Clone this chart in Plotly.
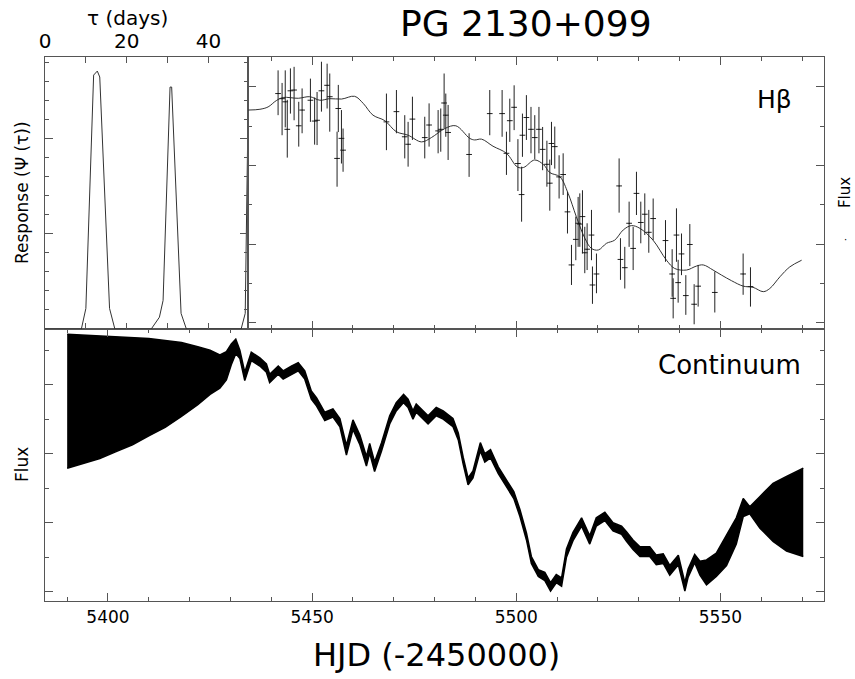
import plotly.graph_objects as go

# ---------------- data ----------------
# Transfer function (response) vs lag
tau_days = [0, 8.9, 10.0, 11.9, 12.8, 13.4, 15.8, 17.1, 26.0, 28.0, 28.9, 30.6, 31.0, 31.3, 33.3, 34.6, 48.0, 49.0, 49.6]
psi_resp = [0, 0, 0.0108, 0.1334, 0.1355, 0.1324, 0.0108, 0, 0, 0.0062, 0.015, 0.1271, 0.1271, 0.1113, 0.0082, 0, 0, 0.0082, 0.1008]

# H-beta light curve observations
hb_hjd = [5441.65, 5442.63, 5443.40, 5443.90, 5444.67, 5445.57, 5446.71, 5447.53, 5449.57, 5450.60,
          5451.20, 5452.27, 5453.66, 5454.31, 5456.40, 5456.10, 5457.17, 5457.57, 5468.19, 5470.64,
          5472.68, 5473.50, 5474.56, 5477.58, 5478.64, 5480.85, 5481.50, 5482.32, 5482.73, 5483.30,
          5488.44, 5493.50, 5496.53, 5497.59, 5498.41, 5499.47, 5500.40, 5501.30, 5501.51, 5502.48,
          5503.60, 5504.53, 5505.55, 5506.45, 5507.50, 5508.21, 5508.62, 5509.43, 5510.49, 5511.48,
          5512.54, 5513.52, 5514.58, 5515.15, 5515.56, 5516.21, 5516.78, 5517.35, 5518.42, 5518.66,
          5519.64, 5525.19, 5525.52, 5526.58, 5527.64, 5528.63, 5529.44, 5530.50, 5531.48, 5532.46,
          5533.53, 5536.55, 5538.18, 5538.43, 5539.24, 5539.65, 5540.47, 5541.53, 5542.51, 5543.57,
          5544.55, 5548.63, 5555.57, 5557.37]
hb_flux = [5.83, 5.70, 5.62, 4.92, 5.90, 5.92, 5.01, 5.41, 5.66, 5.13,
           5.15, 5.90, 6.04, 5.75, 5.45, 4.18, 4.69, 4.39, 5.11, 5.37,
           4.73, 4.54, 5.18, 4.71, 5.03, 4.88, 4.92, 5.59, 5.28, 4.84,
           4.28, 5.32, 5.32, 4.31, 5.14, 5.48, 4.05, 3.26, 4.77, 5.22,
           4.92, 4.71, 4.92, 4.41, 4.03, 3.55, 4.56, 4.48, 3.71, 3.77,
           2.82, 1.47, 2.12, 2.53, 2.51, 2.70, 1.78, 1.87, 2.23, 0.96,
           1.24, 3.48, 1.61, 1.40, 2.53, 1.89, 3.29, 2.55, 2.76, 2.30,
           2.65, 2.09, 1.24, 0.62, 2.23, 1.02, 1.75, 0.69, 1.99, 0.47,
           0.93, 0.77, 1.24, 0.92]
hb_err_up = [0.59, 0.40, 0.80, 0.75, 0.57, 0.59, 0.61, 0.55, 0.55, 0.60,
             0.72, 0.74, 0.55, 0.59, 0.60, 0.68, 0.72, 0.55, 0.72, 0.55,
             0.55, 0.57, 0.57, 0.53, 0.55, 0.53, 0.53, 0.75, 0.55, 0.70,
             0.54, 0.60, 0.60, 0.55, 0.56, 0.56, 0.62, 0.71, 0.55, 0.57,
             0.57, 0.57, 0.57, 0.57, 0.60, 0.60, 0.55, 0.51, 0.55, 0.54,
             0.51, 0.51, 0.58, 0.67, 0.78, 0.67, 0.66, 0.66, 0.64, 0.47,
             0.52, 0.70, 0.54, 0.53, 0.55, 0.55, 0.55, 0.53, 0.53, 0.57,
             0.51, 0.52, 0.63, 0.51, 0.68, 0.58, 0.52, 0.52, 0.52, 0.51,
             0.54, 0.53, 0.52, 0.49]
hb_err_dn = [0.55, 0.93, 0.65, 0.72, 0.58, 0.77, 0.53, 0.59, 0.55, 0.60,
             0.63, 0.53, 0.59, 0.89, 0.60, 0.72, 0.64, 0.55, 0.72, 0.55,
             0.55, 0.57, 0.53, 0.53, 0.55, 0.57, 0.57, 0.65, 0.55, 0.70,
             0.57, 0.55, 0.59, 0.55, 0.54, 0.58, 0.70, 0.69, 0.55, 0.57,
             0.61, 0.55, 0.61, 0.53, 0.57, 0.70, 0.55, 0.56, 0.55, 0.52,
             0.55, 0.51, 0.53, 0.60, 0.58, 0.94, 0.52, 0.53, 0.64, 0.48,
             0.49, 0.68, 0.52, 0.53, 0.60, 0.55, 0.55, 0.53, 0.53, 0.52,
             0.55, 0.54, 0.58, 0.51, 0.68, 0.51, 0.54, 0.49, 0.55, 0.51,
             0.52, 0.51, 0.53, 0.51]

# H-beta model curve
hb_model_hjd = [5434.3, 5437.2, 5439.2, 5441.2, 5442.9, 5446.6, 5449.4, 5451.9, 5454.3, 5457.2,
                5460.4, 5462.5, 5464.9, 5467.8, 5470.6, 5473.5, 5476.8, 5479.2, 5482.5, 5485.2,
                5488.6, 5489.8, 5491.5, 5494.3, 5497.6, 5500.3, 5501.8, 5504.5, 5506.7, 5508.2,
                5510.7, 5512.7, 5514.7, 5516.8, 5518.4, 5520.1, 5522.1, 5524.1, 5526.2, 5528.2,
                5530.3, 5533.5, 5536.8, 5538.8, 5541.7, 5544.1, 5545.8, 5548.2, 5550.3, 5552.7,
                5555.6, 5558.0, 5560.5, 5562.1, 5564.6, 5567.0, 5569.9]
hb_model_flux = [5.41, 5.43, 5.49, 5.65, 5.73, 5.71, 5.75, 5.66, 5.70, 5.69,
                 5.76, 5.58, 5.28, 5.14, 4.86, 4.77, 4.60, 4.71, 4.94, 5.01,
                 4.69, 4.65, 4.67, 4.49, 4.31, 3.96, 3.95, 4.14, 4.02, 3.82,
                 3.71, 3.29, 2.70, 2.15, 1.89, 1.85, 2.02, 2.10, 2.36, 2.47,
                 2.40, 2.10, 1.59, 1.38, 1.34, 1.44, 1.47, 1.34, 1.21, 1.07,
                 0.93, 0.90, 0.79, 0.87, 1.17, 1.42, 1.59]

# Continuum model (centre and half-width of band)
cont_hjd = [5390.0, 5394.0, 5398.0, 5402.0, 5406.0, 5410.0, 5414.0, 5418.0, 5422.0, 5425.0,
            5427.4, 5429.0, 5430.2, 5431.3, 5432.3, 5433.5, 5435.1, 5437.2, 5438.8, 5439.6,
            5441.7, 5442.9, 5444.9, 5446.6, 5448.2, 5449.8, 5451.1, 5453.1, 5455.1, 5456.8,
            5458.4, 5460.0, 5461.7, 5463.3, 5464.1, 5465.3, 5467.0, 5469.0, 5470.6, 5472.4,
            5473.5, 5474.7, 5475.5, 5477.2, 5478.4, 5480.4, 5482.1, 5484.5, 5485.8, 5487.0,
            5488.2, 5489.4, 5491.2, 5492.3, 5493.7, 5495.6, 5497.6, 5499.4, 5500.9, 5502.5,
            5503.7, 5505.4, 5507.0, 5508.4, 5509.8, 5511.1, 5512.3, 5513.9, 5516.0, 5518.0,
            5519.6, 5521.7, 5523.7, 5525.8, 5527.0, 5528.6, 5530.3, 5532.7, 5534.3, 5536.0,
            5537.6, 5539.7, 5541.3, 5542.1, 5543.7, 5545.0, 5546.6, 5549.0, 5551.5, 5553.9,
            5555.6, 5557.2, 5559.7, 5562.9, 5566.2, 5570.3]
cont_flux = [2.76, 2.79, 2.82, 2.865, 2.91, 2.965, 3.01, 3.075, 3.13, 3.18,
             3.19, 3.275, 3.44, 3.555, 3.44, 3.12, 3.41, 3.33, 3.24, 3.09,
             3.21, 3.14, 3.21, 3.26, 3.14, 2.85, 2.75, 2.54, 2.59, 2.45,
             2.05, 2.42, 2.20, 1.89, 2.08, 1.81, 2.10, 2.49, 2.68, 2.80,
             2.73, 2.56, 2.66, 2.56, 2.49, 2.61, 2.56, 2.45, 2.25, 1.90,
             1.60, 1.70, 2.10, 1.94, 2.00, 1.76, 1.57, 1.40, 1.14, 0.80,
             0.46, 0.27, 0.22, 0.07, 0.19, 0.14, 0.56, 0.80, 1.01, 0.75,
             1.01, 1.09, 0.94, 0.89, 0.80, 0.68, 0.58, 0.58, 0.46, 0.48,
             0.31, 0.46, 0.07, 0.27, 0.48, 0.34, 0.28, 0.39, 0.60, 0.88,
             1.22, 1.18, 1.15, 1.15, 1.13, 1.15]
cont_err = [0.97, 0.93, 0.89, 0.835, 0.78, 0.705, 0.63, 0.535, 0.42, 0.32,
            0.24, 0.205, 0.15, 0.105, 0.06, 0.06, 0.06, 0.06, 0.06, 0.06,
            0.06, 0.06, 0.06, 0.06, 0.06, 0.06, 0.06, 0.06, 0.06, 0.06,
            0.07, 0.07, 0.07, 0.07, 0.07, 0.07, 0.06, 0.06, 0.06, 0.06,
            0.06, 0.06, 0.06, 0.06, 0.06, 0.06, 0.06, 0.06, 0.05, 0.05,
            0.05, 0.05, 0.06, 0.06, 0.06, 0.05, 0.05, 0.05, 0.05, 0.05,
            0.05, 0.05, 0.06, 0.06, 0.06, 0.06, 0.06, 0.06, 0.06, 0.06,
            0.06, 0.06, 0.06, 0.06, 0.07, 0.07, 0.07, 0.07, 0.07, 0.07,
            0.07, 0.07, 0.06, 0.06, 0.06, 0.10, 0.18, 0.17, 0.22, 0.19,
            0.13, 0.05, 0.23, 0.42, 0.54, 0.64]

hjd_ticks = [5400, 5450, 5500, 5550]
tau_ticks = [0, 20, 40]

# ---------------- figure ----------------
FONT = "DejaVu Sans"
AX = "#555555"

fig = go.Figure()

# response function
fig.add_trace(go.Scatter(x=tau_days, y=psi_resp, mode="lines",
                         line=dict(color="#333333", width=1),
                         xaxis="x2", yaxis="y2", showlegend=False))

# continuum band
upper = [c + e for c, e in zip(cont_flux, cont_err)]
lower = [c - e for c, e in zip(cont_flux, cont_err)]
fig.add_trace(go.Scatter(x=cont_hjd, y=upper, mode="lines",
                         line=dict(color="black", width=1.5),
                         xaxis="x", yaxis="y", showlegend=False))
fig.add_trace(go.Scatter(x=cont_hjd, y=lower, mode="lines", fill="tonexty",
                         fillcolor="black", line=dict(color="black", width=1.5),
                         xaxis="x", yaxis="y", showlegend=False))

# H-beta model
fig.add_trace(go.Scatter(x=hb_model_hjd, y=hb_model_flux, mode="lines",
                         line=dict(color="#333333", width=1, shape="spline"),
                         xaxis="x3", yaxis="y3", showlegend=False))
# H-beta data
fig.add_trace(go.Scatter(x=hb_hjd, y=hb_flux, mode="markers",
                         marker=dict(size=1, color="black"),
                         error_y=dict(type="data", symmetric=False, array=hb_err_up,
                                      arrayminus=hb_err_dn, width=0, thickness=1,
                                      color="#222222"),
                         error_x=dict(type="constant", value=0.7, width=0,
                                      thickness=1, color="#222222"),
                         xaxis="x3", yaxis="y3", showlegend=False))

common = dict(showline=True, linecolor=AX, linewidth=1.2, mirror="ticks",
              ticks="inside", tickcolor=AX, tickwidth=1, showgrid=False,
              zeroline=False)

fig.update_layout(
    width=855, height=679,
    margin=dict(l=45, r=31, t=57, b=78),
    paper_bgcolor="white", plot_bgcolor="white",
    font=dict(family=FONT, color="black"),
    xaxis=dict(domain=[0, 1], anchor="y", range=[5384.57, 5575.38],
               tickvals=hjd_ticks, ticklen=8,
               minor=dict(dtick=10, tick0=5400, ticklen=4, ticks="inside", tickcolor=AX),
               tickfont=dict(size=17), **common),
    yaxis=dict(domain=[0, 0.5], anchor="x", range=[-0.135, 3.807],
               tickvals=[0, 1, 2, 3], showticklabels=False, ticklen=8,
               minor=dict(dtick=0.5, tick0=0, ticklen=4, ticks="inside", tickcolor=AX),
               **common),
    xaxis2=dict(domain=[0, 0.2607], anchor="y2", side="top", range=[0, 49.7],
                tickvals=tau_ticks, ticklen=6,
                minor=dict(dtick=10, tick0=0, ticklen=6, ticks="inside", tickcolor=AX),
                tickfont=dict(size=20), **common),
    yaxis2=dict(domain=[0.5, 1], anchor="x2", range=[0, 0.1429],
                tickvals=[0, 0.05, 0.1], showticklabels=False, ticklen=8,
                minor=dict(dtick=0.01, tick0=0, ticklen=4, ticks="inside", tickcolor=AX),
                **common),
    xaxis3=dict(domain=[0.2607, 1], anchor="y3", range=[5434.3, 5575.38],
                tickvals=hjd_ticks, showticklabels=False, ticklen=8,
                minor=dict(dtick=10, tick0=5400, ticklen=4, ticks="inside", tickcolor=AX),
                **common),
    yaxis3=dict(domain=[0.5, 1], anchor="x3", range=[-0.16, 6.76],
                tickvals=[0, 2, 4, 6], showticklabels=False, ticklen=8,
                minor=dict(dtick=1, tick0=0, ticklen=4, ticks="inside", tickcolor=AX),
                **common),
)

ann = [
    dict(text="PG 2130+099", x=0.617, y=1.062, font=dict(size=36)),
    dict(text="τ (days)", x=0.1065, y=1.0717, font=dict(size=20)),
    dict(text="Response (Ψ (τ))", x=-0.0295, y=0.75, textangle=-90, font=dict(size=17)),
    dict(text="Flux", x=-0.0295, y=0.25, textangle=-90, font=dict(size=17)),
    dict(text="Flux", x=1.027, y=0.75, textangle=-90, font=dict(size=15)),
    dict(text="·", x=1.027, y=0.664, font=dict(size=10)),
    dict(text="Hβ", x=0.937, y=0.921, font=dict(size=25)),
    dict(text="Continuum", x=0.879, y=0.434, font=dict(size=26)),
    dict(text="HJD (-2450000)", x=0.502, y=-0.099, font=dict(size=32)),
]
for a in ann:
    fig.add_annotation(xref="paper", yref="paper", showarrow=False,
                       xanchor="center", yanchor="middle", **a)

# remove the default page margin so the figure sits at the window origin
fig.write_html("out.html",
               config={"displayModeBar": False},
               post_script="document.body.style.margin='0';document.body.style.overflow='hidden';")
